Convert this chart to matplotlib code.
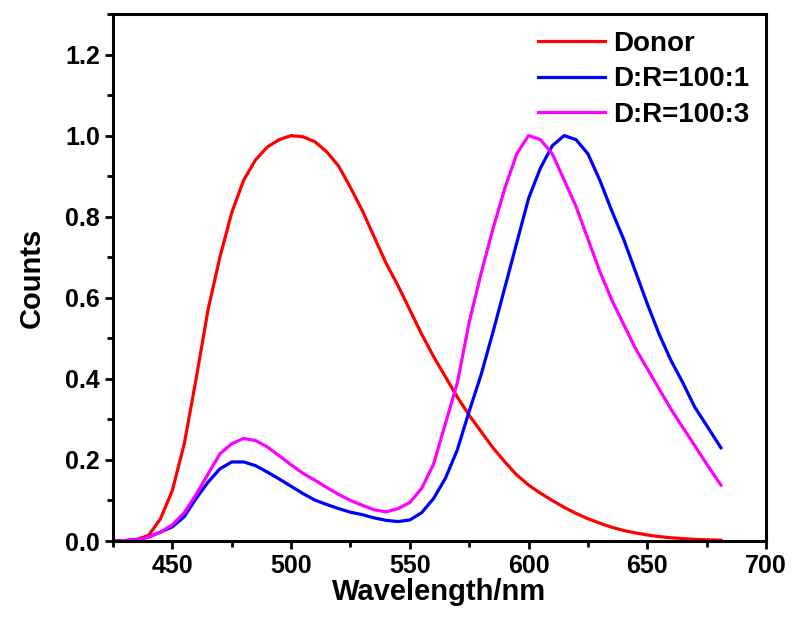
import numpy as np
import matplotlib
matplotlib.use("Agg")
import matplotlib.pyplot as plt
from matplotlib.ticker import MultipleLocator

plt.rcParams['font.family'] = ['Liberation Sans', 'DejaVu Sans']
plt.rcParams['font.weight'] = 'bold'

# Wavelength grid (nm)
wavelength = [425, 430, 435, 440, 445, 450, 455, 460, 465, 470, 475, 480,
              485, 490, 495, 500, 505, 510, 515, 520, 525, 530, 535, 540,
              545, 550, 555, 560, 565, 570, 575, 580, 585, 590, 595, 600,
              605, 610, 615, 620, 625, 630, 635, 640, 645, 650, 655, 660,
              665, 670, 675, 681]

donor = [0.0, 0.001, 0.004, 0.014, 0.055, 0.125, 0.24, 0.40, 0.57, 0.70,
         0.81, 0.89, 0.94, 0.972, 0.99, 1.0, 0.997, 0.985, 0.96, 0.925,
         0.872, 0.815, 0.75, 0.685, 0.63, 0.57, 0.51, 0.455, 0.405, 0.355,
         0.31, 0.27, 0.23, 0.195, 0.163, 0.138, 0.118, 0.10, 0.083, 0.068,
         0.055, 0.044, 0.034, 0.026, 0.02, 0.015, 0.011, 0.008, 0.006,
         0.004, 0.003, 0.002]

dr_100_1 = [0.0, 0.001, 0.003, 0.01, 0.022, 0.035, 0.06, 0.105, 0.145,
            0.178, 0.195, 0.195, 0.186, 0.17, 0.153, 0.135, 0.117, 0.101,
            0.09, 0.08, 0.071, 0.065, 0.057, 0.051, 0.048, 0.052, 0.07,
            0.105, 0.155, 0.225, 0.32, 0.41, 0.515, 0.625, 0.735, 0.845,
            0.92, 0.975, 1.0, 0.99, 0.955, 0.89, 0.815, 0.745, 0.665, 0.585,
            0.51, 0.445, 0.39, 0.33, 0.285, 0.23]

dr_100_3 = [0.0, 0.001, 0.003, 0.01, 0.022, 0.04, 0.07, 0.115, 0.165,
            0.215, 0.24, 0.253, 0.248, 0.232, 0.21, 0.188, 0.167, 0.15,
            0.132, 0.115, 0.1, 0.088, 0.077, 0.072, 0.08, 0.095, 0.13, 0.19,
            0.29, 0.39, 0.54, 0.66, 0.77, 0.87, 0.955, 1.0, 0.99, 0.955,
            0.89, 0.825, 0.745, 0.665, 0.595, 0.535, 0.475, 0.425, 0.375,
            0.325, 0.28, 0.235, 0.19, 0.138]

fig = plt.figure(figsize=(7.92, 6.21), dpi=100)
ax = fig.add_axes([0.1427, 0.1288, 0.8245, 0.8487])

ax.plot(wavelength, donor, color='#ff0000', lw=2.3, label='Donor')
ax.plot(wavelength, dr_100_1, color='#0000ff', lw=2.3, label='D:R=100:1')
ax.plot(wavelength, dr_100_3, color='#ff00ff', lw=2.3, label='D:R=100:3')

ax.set_xlim(425, 700)
ax.set_ylim(0, 1.3)
ax.xaxis.set_major_locator(MultipleLocator(50))
ax.xaxis.set_minor_locator(MultipleLocator(25))
ax.yaxis.set_major_locator(MultipleLocator(0.2))
ax.yaxis.set_minor_locator(MultipleLocator(0.1))
ax.yaxis.set_major_formatter(matplotlib.ticker.FormatStrFormatter('%.1f'))

for s in ax.spines.values():
    s.set_linewidth(2.2)
ax.tick_params(which='major', direction='out', length=6, width=2,
               labelsize=18, top=False, right=False)
ax.tick_params(which='minor', direction='out', length=4, width=2,
               top=False, right=False)
for lab in ax.get_xticklabels() + ax.get_yticklabels():
    lab.set_fontweight('bold')

ax.set_xlabel('Wavelength/nm', fontsize=21, fontweight='bold', labelpad=0)
ax.set_ylabel('Counts', fontsize=21, fontweight='bold', labelpad=14)

ax.legend(loc='upper right', bbox_to_anchor=(1.0, 1.0), frameon=False,
          prop={'size': 20, 'weight': 'bold'}, handlelength=2.4,
          handletextpad=0.3, labelspacing=0.35, borderaxespad=0.2)

fig.savefig('out.png', dpi=100)
